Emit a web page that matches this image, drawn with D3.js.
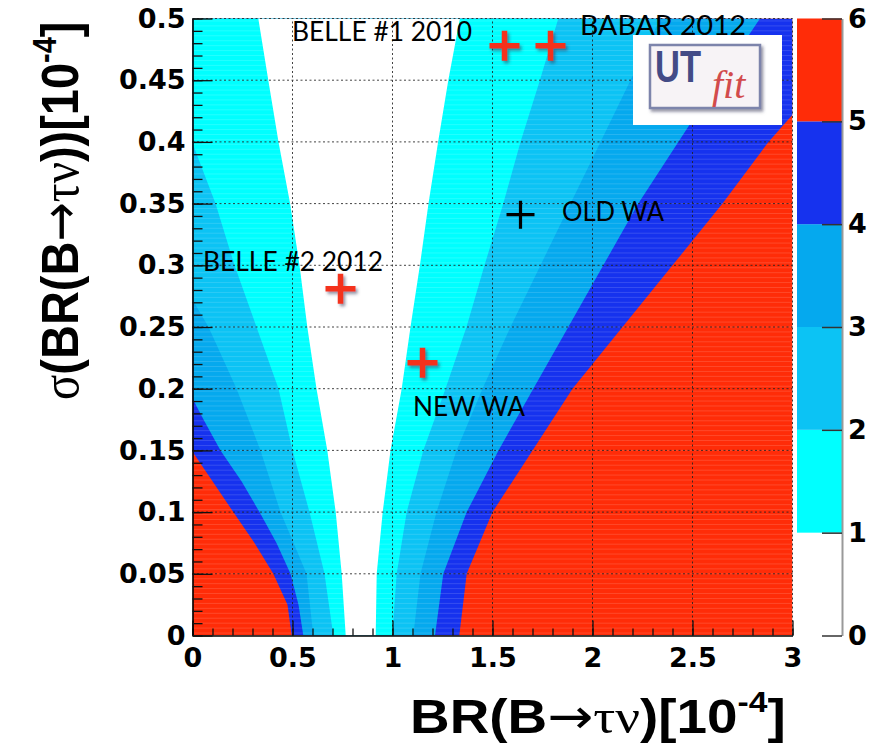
<!DOCTYPE html>
<html><head><meta charset="utf-8">
<script src="https://cdn.jsdelivr.net/npm/d3@7"></script>
<style>html,body{margin:0;padding:0;background:#fff;overflow:hidden}</style>
</head><body>
<svg id="chart" width="870" height="743"></svg>
<script>
// ---------------- data ----------------
const pullLevels   = [0, 1, 2, 3, 4, 5, 6];
const levelColors  = ["#FFFFFF", "#00FFFF", "#0CC3F4", "#05A9EE", "#1632EE", "#FF2C08"];
const xTickLabels  = ["0", "0.5", "1", "1.5", "2", "2.5", "3"];
const yTickLabels  = ["0", "0.05", "0.1", "0.15", "0.2", "0.25", "0.3", "0.35", "0.4", "0.45", "0.5"];
const zTickLabels  = ["0", "1", "2", "3", "4", "5", "6"];

// contour boundaries of the pull, points [BR, sigma]; lower = left edge, upper = right edge
const lowerEdge1 = [[0.766,0],[0.746,0.05],[0.716,0.1],[0.674,0.15],[0.62,0.2],[0.574,0.25],[0.535,0.3],[0.488,0.35],[0.43,0.4],[0.379,0.45],[0.329,0.5]];
const upperEdge1 = [[0.916,0],[0.921,0.05],[0.951,0.1],[0.99,0.15],[1.046,0.2],[1.09,0.25],[1.137,0.3],[1.18,0.35],[1.228,0.4],[1.279,0.45],[1.337,0.5]];
const lowerEdge2 = [[0.704,0],[0.66,0.05],[0.585,0.1],[0.50,0.15],[0.43,0.2],[0.32,0.25],[0.21,0.3],[0.115,0.35],[0,0.399]];
const upperEdge2 = [[0.999,0],[1.021,0.05],[1.071,0.1],[1.154,0.15],[1.265,0.2],[1.37,0.25],[1.46,0.3],[1.554,0.35],[1.64,0.4],[1.737,0.45],[1.829,0.5]];
const lowerEdge3 = [[0.604,0],[0.57,0.05],[0.44,0.1],[0.34,0.15],[0.22,0.2],[0.08,0.25],[0,0.272]];
const upperEdge3 = [[1.104,0],[1.14,0.05],[1.22,0.1],[1.32,0.15],[1.45,0.2],[1.59,0.25],[1.74,0.3],[1.89,0.35],[2.04,0.4],[2.19,0.45],[2.34,0.5]];
const lowerEdge4 = [[0.554,0],[0.53,0.025],[0.49,0.05],[0.42,0.075],[0.335,0.1],[0.245,0.125],[0.14,0.15],[0.055,0.175],[0,0.192]];
const upperEdge4 = [[1.2125,0],[1.254,0.05],[1.371,0.1],[1.53,0.15],[1.704,0.2],[1.879,0.25],[2.054,0.3],[2.229,0.35],[2.429,0.4],[2.63,0.45],[2.8375,0.5]];
const lowerEdge5 = [[0.496,0],[0.475,0.025],[0.404,0.05],[0.31,0.075],[0.204,0.1],[0.10,0.125],[0,0.149]];
const upperEdge5 = [[1.334,0],[1.371,0.05],[1.50,0.1],[1.70,0.15],[1.90,0.2],[2.15,0.25],[2.40,0.3],[2.65,0.35],[2.88,0.4],[3.0,0.422]];

// measurements
const measNames  = ["BELLE #1 2010", "BABAR 2012", "BELLE #2 2012", "NEW WA", "OLD WA"];
const measBR     = [1.56, 1.79, 0.74, 1.15, 1.64];
const measSigma  = [0.478, 0.478, 0.281, 0.221, 0.341];
const measColor  = ["#F4301C", "#F4301C", "#F4301C", "#F4301C", "#000000"];

// ---------------- drawing ----------------
const svg = d3.select("#chart");
const x = d3.scaleLinear().domain([0, 3]).range([192.5, 792.5]);
const y = d3.scaleLinear().domain([0, 0.5]).range([635.5, 18.5]);
const z = d3.scaleLinear().domain([0, 6]).range([635.5, 18.5]);
const [x0, x1] = x.domain(), [y0, y1] = y.domain();

const defs = svg.append("defs");
defs.append("clipPath").attr("id", "plotclip").append("rect")
  .attr("x", x(x0)).attr("y", y(y1)).attr("width", x(x1) - x(x0)).attr("height", y(y0) - y(y1));
const f = defs.append("filter").attr("id", "shadow").attr("x", "-30%").attr("y", "-30%").attr("width", "170%").attr("height", "170%");
f.append("feDropShadow").attr("dx", 2).attr("dy", 2.5).attr("stdDeviation", 1.6)
  .attr("flood-color", "#3a3a5a").attr("flood-opacity", 0.55);

const plot = svg.append("g").attr("clip-path", "url(#plotclip)");
plot.append("rect").attr("x", x(x0)).attr("y", y(y1))
  .attr("width", x(x1) - x(x0)).attr("height", y(y0) - y(y1)).attr("fill", levelColors[5]);

const lowers = [lowerEdge1, lowerEdge2, lowerEdge3, lowerEdge4, lowerEdge5];
const uppers = [upperEdge1, upperEdge2, upperEdge3, upperEdge4, upperEdge5];
function regionPoints(left, right) {
  const pts = left.slice();
  if (left[left.length - 1][1] < y1) pts.push([x0, y1]);
  if (right[right.length - 1][1] < y1) pts.push([x1, y1]);
  return pts.concat(right.slice().reverse());
}
const areaLine = d3.line().x(d => x(d[0])).y(d => y(d[1])).curve(d3.curveLinearClosed);
for (let k = 5; k >= 1; k--) {
  plot.append("path").attr("d", areaLine(regionPoints(lowers[k - 1], uppers[k - 1])))
    .attr("fill", levelColors[k - 1]);
}
// fine horizontal bin stripes
plot.selectAll("line.stripe").data(d3.range(0.002, y1, 0.004)).join("line")
  .attr("x1", x(x0)).attr("x2", x(x1)).attr("y1", d => y(d)).attr("y2", d => y(d))
  .attr("stroke", "#fff").attr("stroke-opacity", 0.14).attr("stroke-width", 1);

// grid
const xTicks = xTickLabels.map(Number), yTicks = yTickLabels.map(Number), zTicks = zTickLabels.map(Number);
const grid = svg.append("g").attr("stroke", "#222").attr("stroke-width", 1).attr("stroke-dasharray", "2,2.5").attr("opacity", 0.85);
grid.selectAll("line.gx").data(xTicks.slice(1)).join("line")
  .attr("x1", d => x(d)).attr("x2", d => x(d)).attr("y1", y(y0)).attr("y2", y(y1));
grid.selectAll("line.gy").data(yTicks.slice(1)).join("line")
  .attr("y1", d => y(d)).attr("y2", d => y(d)).attr("x1", x(x0)).attr("x2", x(x1));

// axes
const tickFont = "'DejaVu Sans', sans-serif";
const xAxis = svg.append("g").attr("transform", `translate(0,${y(y0)})`)
  .call(d3.axisBottom(x).tickValues(xTicks).tickSizeInner(-15).tickSizeOuter(0).tickPadding(12).tickFormat((d, i) => xTickLabels[i]));
const xMinor = svg.append("g").attr("transform", `translate(0,${y(y0)})`)
  .call(d3.axisBottom(x).tickValues(d3.range(0, 3.0001, 0.1)).tickSizeInner(-7).tickSizeOuter(0).tickFormat(""));
const yAxis = svg.append("g").attr("transform", `translate(${x(x0)},0)`)
  .call(d3.axisLeft(y).tickValues(yTicks).tickSizeInner(-20).tickSizeOuter(0).tickPadding(7).tickFormat((d, i) => yTickLabels[i]));
const yMinor = svg.append("g").attr("transform", `translate(${x(x0)},0)`)
  .call(d3.axisLeft(y).tickValues(d3.range(0, 0.5001, 0.01)).tickSizeInner(-10).tickSizeOuter(0).tickFormat(""));
[xAxis, xMinor, yAxis, yMinor].forEach(g => {
  g.selectAll(".domain").attr("stroke", "#000").attr("stroke-width", 1.6);
  g.selectAll(".tick line").attr("stroke", "#111").attr("stroke-width", 1.3);
  g.selectAll("text").attr("font-family", tickFont).attr("font-weight", "bold")
    .attr("font-size", 27).attr("fill", "#000");
});
xMinor.select(".domain").remove(); yMinor.select(".domain").remove();

// measurement markers
const marks = svg.append("g");
measBR.forEach((br, i) => {
  const cx = x(br), cy = y(measSigma[i]);
  const big = i < 4;
  const h = big ? 15 : 14;
  marks.append("path")
    .attr("d", `M${cx - h},${cy}H${cx + h}M${cx},${cy - h}V${cy + h}`)
    .attr("stroke", measColor[i]).attr("stroke-width", big ? 5.5 : 3.2)
    .attr("fill", "none").attr("filter", big ? "url(#shadow)" : null);
});

// annotation labels
const labelFont = "Lato, 'Open Sans', sans-serif";
const labelPos = [[292, 41, 180], [580, 35, 166], [203, 271, 180], [413, 416, 112], [562, 221, 102]];
measNames.forEach((n, i) => {
  const [lx, ly, lw] = labelPos[i];
  svg.append("text").attr("x", lx).attr("y", ly).text(n)
    .attr("font-family", labelFont).attr("font-size", 26).attr("fill", "#000")
    .attr("textLength", lw).attr("lengthAdjust", "spacingAndGlyphs");
});

// UTfit logo
const logo = svg.append("g");
logo.append("rect").attr("x", 633).attr("y", 35).attr("width", 149).attr("height", 90).attr("fill", "#fff");
logo.append("rect").attr("x", 650).attr("y", 45).attr("width", 110).attr("height", 63)
  .attr("fill", "#F7F3F6").attr("stroke", "#7D84AB").attr("stroke-width", 2.5).attr("filter", "url(#shadow)");
logo.append("text").attr("x", 655).attr("y", 82).text("UT")
  .attr("font-family", "'Liberation Sans', Arial, sans-serif").attr("font-weight", "bold")
  .attr("font-size", 44).attr("fill", "#434B86").attr("textLength", 46).attr("lengthAdjust", "spacingAndGlyphs");
logo.append("text").attr("x", 712).attr("y", 98).text("fit")
  .attr("font-family", "'Liberation Serif', serif").attr("font-style", "italic")
  .attr("font-size", 40).attr("fill", "#D24B4C");

// colour palette
const pal = svg.append("g");
const palX0 = 797, palX1 = 842;
pal.selectAll("rect").data(d3.range(1, 6)).join("rect")
  .attr("x", palX0).attr("width", palX1 - palX0)
  .attr("y", d => z(pullLevels[d + 1])).attr("height", d => z(pullLevels[d]) - z(pullLevels[d + 1]))
  .attr("fill", d => levelColors[d]);
const zAxis = svg.append("g").attr("transform", `translate(${palX1},0)`)
  .call(d3.axisRight(z).tickValues(zTicks).tickSizeInner(-20).tickSizeOuter(0).tickPadding(6).tickFormat((d, i) => zTickLabels[i]));
zAxis.select(".domain").attr("stroke", "#999").attr("stroke-width", 2);
zAxis.selectAll(".tick line").attr("stroke", "#333").attr("stroke-width", 1.5);
zAxis.selectAll("text").attr("font-family", tickFont).attr("font-weight", "bold").attr("font-size", 27).attr("fill", "#000");

// axis titles
const titleFont = "'Liberation Sans', Arial, sans-serif";
const serif = "'Liberation Serif', 'DejaVu Serif', serif";
function title(g, size) {
  return g.append("text").attr("font-family", titleFont).attr("font-weight", "bold").attr("font-size", size).attr("fill", "#000");
}
const xt = title(svg.append("g").attr("transform", "translate(410,733) scale(1.12,1)"), 49);
xt.append("tspan").text("BR(B");
xt.append("tspan").attr("font-family", "'DejaVu Sans', sans-serif").attr("font-weight", "normal").text("→");
xt.append("tspan").attr("font-family", serif).attr("font-weight", "normal").text("τν");
xt.append("tspan").text(")[10");
xt.append("tspan").attr("font-size", 30).attr("dy", -21).text("-4");
xt.append("tspan").attr("dy", 21).text("]");

const yt = title(svg.append("g").attr("transform", "translate(78,400) scale(1.12,1) rotate(-90)"), 47);
yt.append("tspan").attr("font-family", serif).attr("font-weight", "normal").text("σ");
yt.append("tspan").text("(BR(B");
yt.append("tspan").attr("font-family", "'DejaVu Sans', sans-serif").attr("font-weight", "normal").text("→");
yt.append("tspan").attr("font-family", serif).attr("font-weight", "normal").text("τν");
yt.append("tspan").text("))[10");
yt.append("tspan").attr("font-size", 29).attr("dy", -20).text("-4");
yt.append("tspan").attr("dy", 20).text("]");
</script>
</body></html>
